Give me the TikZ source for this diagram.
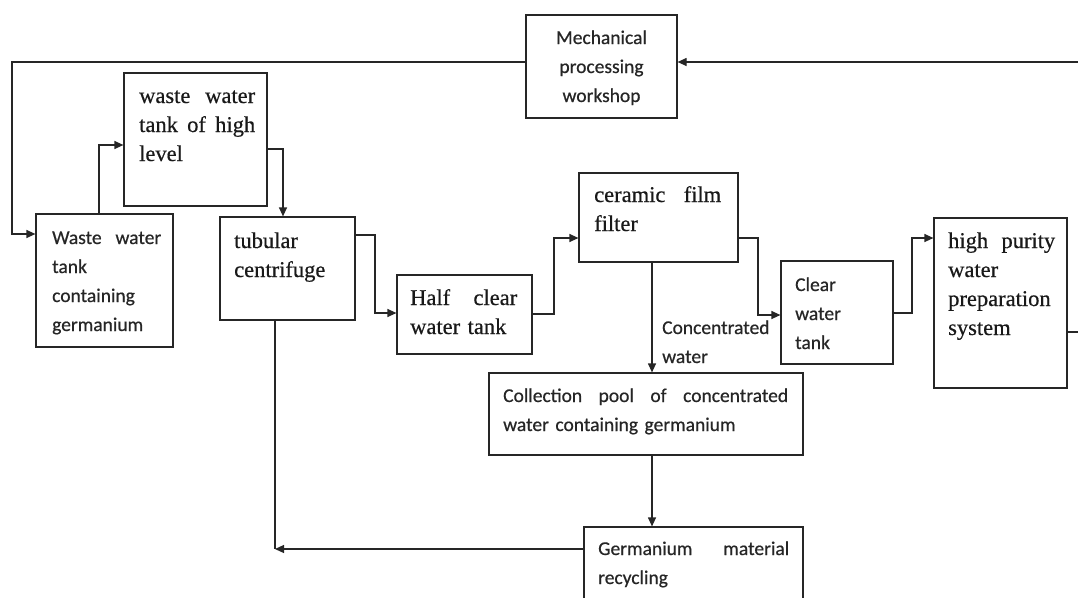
\documentclass[tikz,border=0pt]{standalone}
\usepackage{fontspec}
\setmainfont{Liberation Serif}[FakeBold=0.5]
\setsansfont{Carlito}[FakeBold=0.6]
\usetikzlibrary{arrows.meta}
\newcommand\bx[5]{\node[box,minimum width={(#4-#2)*1pt},minimum height={(#5-#3)*1pt}] (#1) at ({(#2+#4)/2},{(#3+#5)/2}) {};}
\begin{document}
\begin{tikzpicture}[x=1pt,y=-1pt,
  box/.style={draw=black!85,line width=1.2pt,inner sep=0pt,fill=none},
  ln/.style={draw=black!85,line width=1.2pt},
  arr/.style={ln,-{Triangle[length=9pt,width=8pt]}},
  sf/.style={inner sep=0pt,anchor=base west,align=left,font=\sffamily\fontsize{19.5}{29}\selectfont,text=black!85},
  rm/.style={inner sep=0pt,anchor=base west,align=left,font=\rmfamily\fontsize{22.5}{29}\selectfont,text=black!90}]
\useasboundingbox (0,0) rectangle (1078,597);
\clip (0,0) rectangle (1078,597);
% boxes
\bx{mech}{526}{15}{677}{118}
\bx{hl}{124}{73}{267}{206}
\bx{waste}{36}{214}{173}{347}
\bx{tub}{220}{217}{355}{320}
\bx{half}{397}{275}{532}{354}
\bx{cer}{579}{173}{738}{262}
\bx{clear}{781}{261}{893}{364}
\bx{hp}{934}{218}{1067}{388}
\bx{coll}{489}{373}{803}{455}
\bx{germ}{584}{527}{803}{615}
% texts
\node[sf,anchor=base,align=center,text width=150pt] (tmech) at (601.5,44) {Mechanical\\processing\\workshop};
\node[rm,text width=116pt] (thl) at (139,103) {waste\hfill water\\tank\hfill of\hfill high\\level};
\node[sf,text width=109pt] (twaste) at (52,244) {Waste\hfill water\\tank\\containing\\germanium};
\node[rm,text width=110pt] (ttub) at (234,248) {tubular\\centrifuge};
\node[rm,text width=107pt] (thalf) at (410,305) {Half\hfill clear\\water tank};
\node[rm,text width=127pt] (tcer) at (594,202) {ceramic\hfill film\\filter};
\node[sf,text width=90pt] (tclear) at (795,291) {Clear\\water\\tank};
\node[rm,text width=107pt] (thp) at (948,248) {high\hfill purity\\water\\preparation\\system};
\node[sf,text width=285pt] (tcoll) at (503,402) {Collection\hfill pool\hfill of\hfill concentrated\\water containing germanium};
\node[sf,text width=191pt] (tgerm) at (598,555) {Germanium\hfill material\\recycling};
\node[sf,text width=120pt] (tconc) at (662,334) {Concentrated\\water};
% edge coordinates
\coordinate (rin) at (1078,62);
\coordinate (rout) at (1078,332);
% connectors
\draw[arr] (rin) -- (mech.east |- rin);
\draw[arr] (mech.west |- rin) -| (12,234) -- (waste.west |- 0,234);
\draw[ln] (hp.east |- rout) -- (rout);
\draw[arr] (waste.north -| 99,0) |- (hl.west |- 0,145);
\draw[arr] (hl.east |- 0,149) -| (tub.north -| 283,0);
\draw[arr] (tub.east |- 0,235) -| (375,313) -- (half.west |- 0,313);
\draw[arr] (half.east |- 0,314) -| (554,238) -- (cer.west |- 0,238);
\draw[arr] (cer.south -| 652,0) -- (coll.north -| 652,0);
\draw[arr] (cer.east |- 0,238) -| (758,315) -- (clear.west |- 0,315);
\draw[arr] (clear.east |- 0,313) -| (912,238) -- (hp.west |- 0,238);
\draw[arr] (coll.south -| 652,0) -- (germ.north -| 652,0);
\draw[ln] (tub.south -| 275,0) -- (275,549);
\draw[arr] (germ.west |- 0,549) -- (275,549);
\end{tikzpicture}
\end{document}
